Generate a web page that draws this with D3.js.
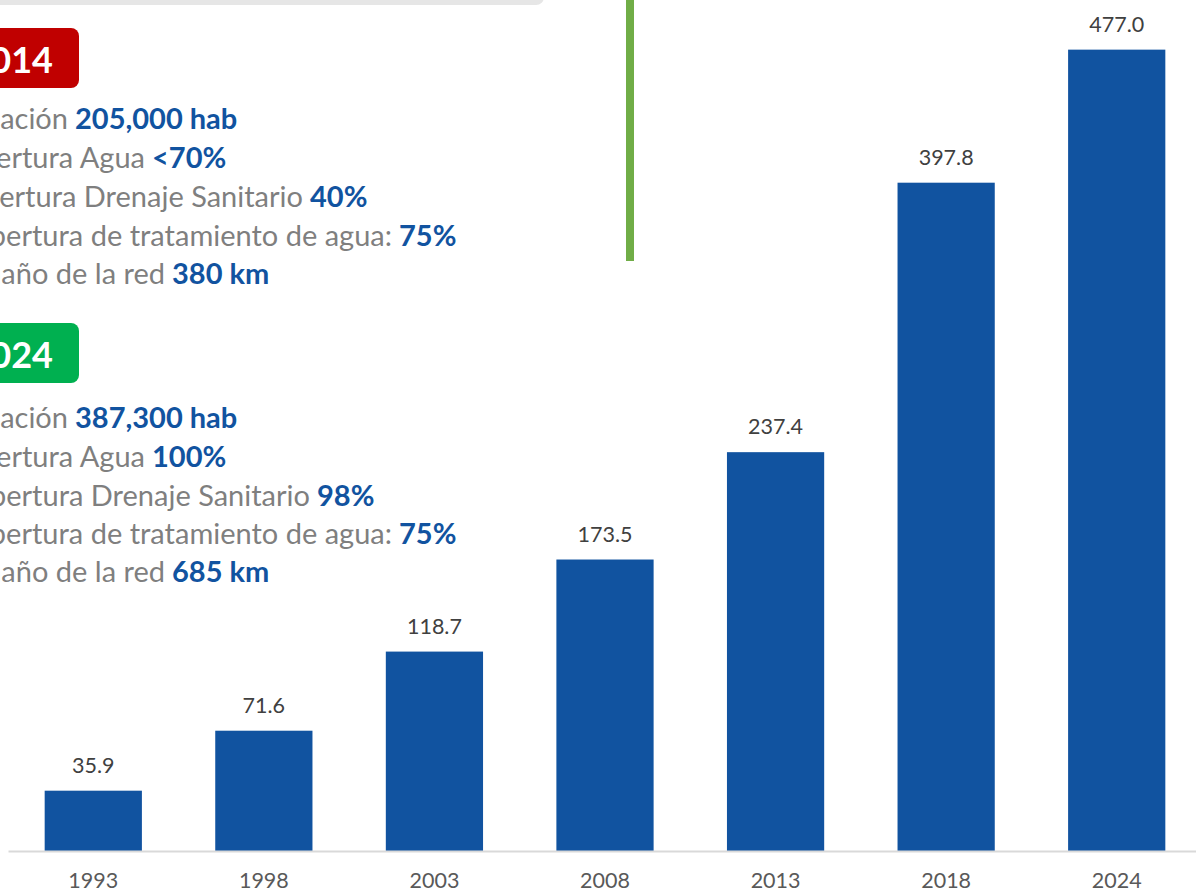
<!DOCTYPE html>
<html>
<head>
<meta charset="utf-8">
<script src="https://cdn.jsdelivr.net/npm/d3@7"></script>
<style>
  html, body { margin: 0; padding: 0; background: #fff; }
  svg { display: block; font-family: Lato, "Open Sans", sans-serif; }
</style>
</head>
<body>
<div class="chart"></div>
<script>
// chart data
var years = ["1993", "1998", "2003", "2008", "2013", "2018", "2024"];
var values = [35.9, 71.6, 118.7, 173.5, 237.4, 397.8, 477.0];

// annotation blocks (gray lead text, bold blue value)
var badge2014 = "2014";
var lead2014 = ["Población", "Cobertura Agua", "Cobertura Drenaje Sanitario", "Cobertura de tratamiento de agua:", "Tamaño de la red"];
var bold2014 = ["205,000 hab", "<70%", "40%", "75%", "380 km"];
var badge2024 = "2024";
var lead2024 = ["Población", "Cobertura Agua", "Cobertura Drenaje Sanitario ", "Cobertura de tratamiento de agua:", "Tamaño de la red"];
var bold2024 = ["387,300 hab", "100%", "98%", "75%", "685 km"];

var width = 1196, height = 890;
var baseY = 851;
var blue = "#1153a0";

var svg = d3.select(".chart").append("svg")
    .attr("width", width)
    .attr("height", height);

// top gray strip and green divider
svg.append("rect")
    .attr("x", -20).attr("y", -20)
    .attr("width", 564).attr("height", 25)
    .attr("rx", 8)
    .attr("fill", "#e6e6e6");

svg.append("rect")
    .attr("x", 626).attr("y", -2)
    .attr("width", 8).attr("height", 263)
    .attr("fill", "#70ad47");

// scales
var x = d3.scaleBand()
    .domain(years)
    .range([8, 1202])
    .paddingInner(0.43)
    .paddingOuter(0.215);

var y = d3.scaleLinear()
    .domain([0, 500])
    .range([baseY, 11]);

var data = years.map(function (yr, i) { return { year: yr, value: values[i] }; });

// bars
svg.append("g").selectAll("rect")
    .data(data)
    .enter()
    .append("rect")
    .attr("x", d => x(d.year))
    .attr("y", d => y(d.value))
    .attr("width", x.bandwidth())
    .attr("height", d => baseY - y(d.value))
    .attr("fill", blue);

// value labels
svg.append("g").selectAll("text")
    .data(data)
    .enter()
    .append("text")
    .attr("x", d => x(d.year) + x.bandwidth() / 2)
    .attr("y", d => y(d.value) - 18)
    .attr("text-anchor", "middle")
    .attr("font-size", 21.5)
    .attr("fill", "#404040")
    .text(d => d.value.toFixed(1));

// x axis
var xAxis = svg.append("g")
    .attr("transform", "translate(0," + baseY + ")")
    .call(d3.axisBottom(x).tickSize(0).tickPadding(0));

xAxis.select(".domain")
    .attr("stroke", "#d9d9d9")
    .attr("stroke-width", 2);

xAxis.selectAll(".tick text")
    .attr("y", 37)
    .attr("dy", 0)
    .attr("font-family", "Lato, 'Open Sans', sans-serif")
    .attr("font-size", 21.5)
    .attr("fill", "#595959");

// annotation blocks
function drawBlock(top, badgeText, badgeColor, leads, bolds, boldX, lineY) {
    svg.append("rect")
        .attr("x", -20).attr("y", top)
        .attr("width", 99).attr("height", 60)
        .attr("rx", 8)
        .attr("fill", badgeColor);
    svg.append("text")
        .attr("x", 53).attr("y", top + 45)
        .attr("text-anchor", "end")
        .attr("font-size", 36)
        .attr("font-weight", "bold")
        .attr("fill", "#fff")
        .text(badgeText);

    leads.forEach(function (lead, i) {
        svg.append("text")
            .attr("x", boldX[i] - 7)
            .attr("y", lineY[i])
            .attr("text-anchor", "end")
            .attr("font-size", 29)
            .attr("fill", "#7f7f7f")
            .text(lead);
        svg.append("text")
            .attr("x", boldX[i])
            .attr("y", lineY[i])
            .attr("font-size", 29)
            .attr("font-weight", "bold")
            .attr("fill", blue)
            .text(bolds[i]);
    });
}

drawBlock(28, badge2014, "#c00000", lead2014, bold2014,
    [75, 152, 310, 399, 172], [129, 168, 207, 246, 284]);
drawBlock(323, badge2024, "#00b050", lead2024, bold2024,
    [75, 152, 317, 399, 172], [428, 467, 506, 544, 582]);
</script>
</body>
</html>
